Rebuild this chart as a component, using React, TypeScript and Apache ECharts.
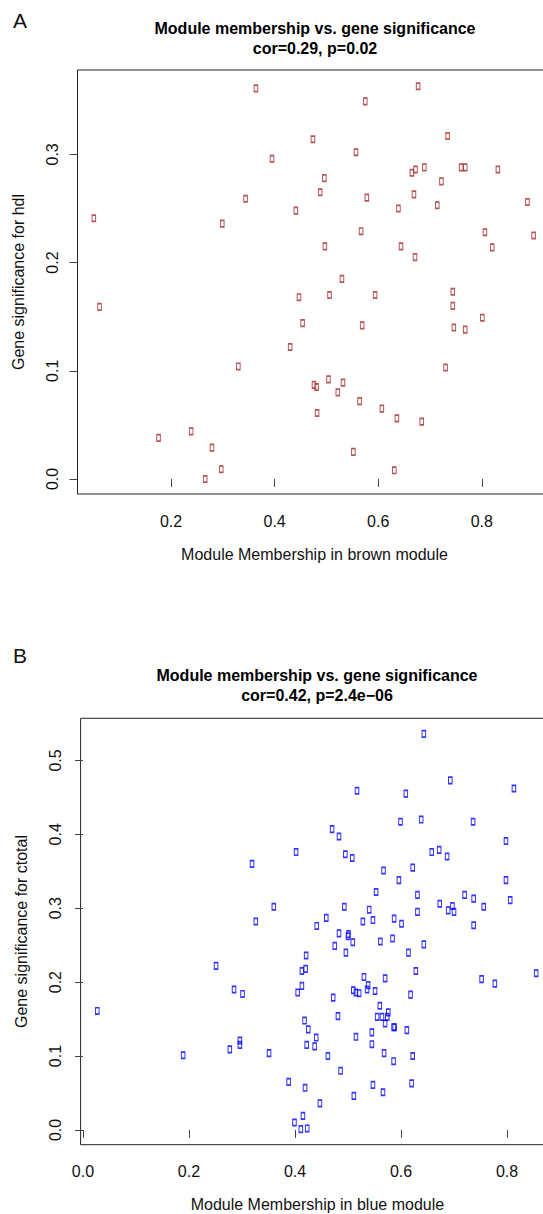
import { useEffect, useRef } from "react";
import * as echarts from "echarts";

// Panel A: module membership in the brown module vs. gene significance for hdl
const brownMM = [
  0.051, 0.364, 0.395, 0.344, 0.299, 0.441, 0.677, 0.575, 0.474, 0.557,
  0.734, 0.496, 0.488, 0.578, 0.665, 0.672, 0.689, 0.722, 0.760, 0.768,
  0.831, 0.669, 0.639, 0.714, 0.888, 0.567, 0.806, 0.900, 0.497, 0.644,
  0.820, 0.671, 0.530, 0.447, 0.506, 0.594, 0.744, 0.744, 0.801, 0.454,
  0.569, 0.746, 0.768, 0.430, 0.730, 0.476, 0.481, 0.504, 0.532, 0.522,
  0.564, 0.607, 0.636, 0.684, 0.482, 0.552, 0.631, 0.062, 0.330, 0.176,
  0.239, 0.279, 0.297, 0.266,
];
const brownGS = [
  0.241, 0.361, 0.296, 0.259, 0.236, 0.248, 0.363, 0.349, 0.314, 0.302,
  0.317, 0.278, 0.265, 0.260, 0.283, 0.286, 0.288, 0.275, 0.288, 0.288,
  0.286, 0.263, 0.250, 0.253, 0.256, 0.229, 0.228, 0.225, 0.215, 0.215,
  0.214, 0.205, 0.185, 0.168, 0.170, 0.170, 0.173, 0.160, 0.149, 0.144,
  0.142, 0.140, 0.138, 0.122, 0.103, 0.087, 0.085, 0.092, 0.089, 0.080,
  0.072, 0.065, 0.056, 0.053, 0.061, 0.025, 0.008, 0.159, 0.104, 0.038,
  0.044, 0.029, 0.009, 0.000,
];

// Panel B: module membership in the blue module vs. gene significance for ctotal
const blueMM = [
  0.319, 0.402, 0.360, 0.643, 0.693, 0.813, 0.517, 0.609, 0.599, 0.638,
  0.736, 0.470, 0.483, 0.798, 0.495, 0.508, 0.658, 0.672, 0.687, 0.567,
  0.622, 0.596, 0.798, 0.553, 0.631, 0.720, 0.737, 0.806, 0.673, 0.493,
  0.540, 0.689, 0.697, 0.700, 0.756, 0.459, 0.528, 0.547, 0.587, 0.601,
  0.631, 0.737, 0.441, 0.483, 0.501, 0.500, 0.509, 0.475, 0.561, 0.584,
  0.643, 0.496, 0.614, 0.421, 0.413, 0.420, 0.628, 0.752, 0.777, 0.855,
  0.413, 0.405, 0.530, 0.570, 0.538, 0.510, 0.536, 0.515, 0.521, 0.551,
  0.472, 0.618, 0.560, 0.418, 0.481, 0.555, 0.564, 0.574, 0.576, 0.570,
  0.586, 0.588, 0.611, 0.425, 0.440, 0.422, 0.437, 0.515, 0.545, 0.545,
  0.462, 0.568, 0.586, 0.622, 0.486, 0.326, 0.251, 0.285, 0.301, 0.027,
  0.296, 0.296, 0.277, 0.189, 0.351, 0.388, 0.419, 0.447, 0.511, 0.547,
  0.566, 0.620, 0.415, 0.399, 0.411, 0.423,
];
const blueGS = [
  0.360, 0.376, 0.302, 0.536, 0.473, 0.462, 0.459, 0.455, 0.417, 0.420,
  0.417, 0.407, 0.397, 0.391, 0.373, 0.368, 0.376, 0.379, 0.370, 0.351,
  0.355, 0.338, 0.338, 0.322, 0.318, 0.318, 0.313, 0.311, 0.306, 0.302,
  0.298, 0.297, 0.303, 0.295, 0.302, 0.287, 0.282, 0.284, 0.286, 0.279,
  0.295, 0.277, 0.276, 0.266, 0.265, 0.262, 0.254, 0.249, 0.255, 0.259,
  0.251, 0.240, 0.240, 0.236, 0.215, 0.218, 0.215, 0.204, 0.198, 0.212,
  0.195, 0.186, 0.207, 0.205, 0.196, 0.189, 0.190, 0.186, 0.185, 0.188,
  0.179, 0.183, 0.168, 0.148, 0.154, 0.153, 0.153, 0.153, 0.159, 0.144,
  0.139, 0.139, 0.135, 0.136, 0.125, 0.115, 0.113, 0.126, 0.132, 0.116,
  0.100, 0.104, 0.093, 0.100, 0.080, 0.282, 0.222, 0.190, 0.184, 0.161,
  0.121, 0.115, 0.109, 0.101, 0.104, 0.065, 0.057, 0.036, 0.046, 0.061,
  0.051, 0.063, 0.019, 0.010, 0.001, 0.002,
];

// Tick labels
const brownMMTicks = [0.2, 0.4, 0.6, 0.8];
const hdlTicks = [0.0, 0.1, 0.2, 0.3];
const blueMMTicks = [0.0, 0.2, 0.4, 0.6, 0.8];
const ctotalTicks = [0.0, 0.1, 0.2, 0.3, 0.4, 0.5];

const FONT = "'Liberation Sans', Arial, Helvetica, sans-serif";
const INK = "#111";

const zip = (xs: number[], ys: number[]) => xs.map((x, i) => [x, ys[i]]);

function xAxisOf(gridIndex: number, min: number, max: number, ticks: number[], name: string) {
  return {
    type: "value",
    gridIndex,
    min,
    max,
    name,
    nameLocation: "middle",
    nameGap: 52,
    nameTextStyle: { fontFamily: FONT, fontSize: 16, color: INK },
    axisLine: { show: false },
    axisTick: {
      show: true,
      length: 8,
      customValues: ticks,
      lineStyle: { color: "#444", width: 1 },
    },
    axisLabel: {
      customValues: ticks,
      formatter: (v: number) => v.toFixed(1),
      fontFamily: FONT,
      fontSize: 16,
      color: INK,
      margin: 19,
    },
    splitLine: { show: false },
  };
}

function yAxisOf(gridIndex: number, min: number, max: number, ticks: number[], name: string) {
  return {
    type: "value",
    gridIndex,
    min,
    max,
    name,
    nameLocation: "middle",
    nameRotate: 90,
    nameGap: 51,
    nameTextStyle: { fontFamily: FONT, fontSize: 16, color: INK },
    axisLine: { show: false },
    axisTick: {
      show: true,
      length: 8,
      customValues: ticks,
      lineStyle: { color: "#444", width: 1 },
    },
    axisLabel: {
      customValues: ticks,
      formatter: (v: number) => v.toFixed(1),
      rotate: 90,
      fontFamily: FONT,
      fontSize: 16,
      color: INK,
      margin: 17,
    },
    splitLine: { show: false },
  };
}

function scatterOf(index: number, data: number[][], color: string) {
  return {
    type: "scatter",
    xAxisIndex: index,
    yAxisIndex: index,
    data,
    symbol: "rect",
    symbolSize: [3.6, 6.4],
    silent: true,
    itemStyle: { color: "rgba(255,255,255,0)", borderColor: color, borderWidth: 1.3 },
  };
}

export default function App() {
  const ref = useRef<HTMLDivElement>(null);

  useEffect(() => {
    document.body.style.margin = "0";
    const chart = echarts.init(ref.current!, null, { renderer: "svg" });

    const titleStyle = { fontFamily: FONT, fontSize: 16, fontWeight: "bold", color: "#000", lineHeight: 20 };
    const letterStyle = { fontFamily: FONT, fontSize: 21, fontWeight: "normal", color: INK };

    chart.setOption({
      animation: false,
      backgroundColor: "#fff",
      title: [
        { text: "A", left: 13, top: 10, padding: 0, textStyle: letterStyle },
        {
          text: "Module membership vs. gene significance\ncor=0.29, p=0.02",
          left: 315,
          top: 18,
          padding: 0,
          textAlign: "center",
          textStyle: titleStyle,
        },
        { text: "B", left: 13, top: 645, padding: 0, textStyle: letterStyle },
        {
          text: "Module membership vs. gene significance\ncor=0.42, p=2.4e\u221206",
          left: 317,
          top: 665,
          padding: 0,
          textAlign: "center",
          textStyle: titleStyle,
        },
      ],
      grid: [
        { left: 77.5, top: 70, width: 474, height: 424, show: true, borderColor: "#222", borderWidth: 1, backgroundColor: "transparent" },
        { left: 80.6, top: 718.3, width: 473.6, height: 426.4, show: true, borderColor: "#222", borderWidth: 1, backgroundColor: "transparent" },
      ],
      xAxis: [
        xAxisOf(0, 0.0195, 0.9345, brownMMTicks, "Module Membership in brown module"),
        xAxisOf(1, -0.0045, 0.889, blueMMTicks, "Module Membership in blue module"),
      ],
      yAxis: [
        yAxisOf(0, -0.0139, 0.378, hdlTicks, "Gene significance for hdl"),
        yAxisOf(1, -0.02, 0.557, ctotalTicks, "Gene significance for ctotal"),
      ],
      series: [
        scatterOf(0, zip(brownMM, brownGS), "#A52A2A"),
        scatterOf(1, zip(blueMM, blueGS), "#0000FF"),
      ],
    });

    return () => chart.dispose();
  }, []);

  return (
    <div style={{ width: 543, height: 1214, overflow: "hidden", background: "#fff" }}>
      <div ref={ref} style={{ width: 560, height: 1214 }} />
    </div>
  );
}
